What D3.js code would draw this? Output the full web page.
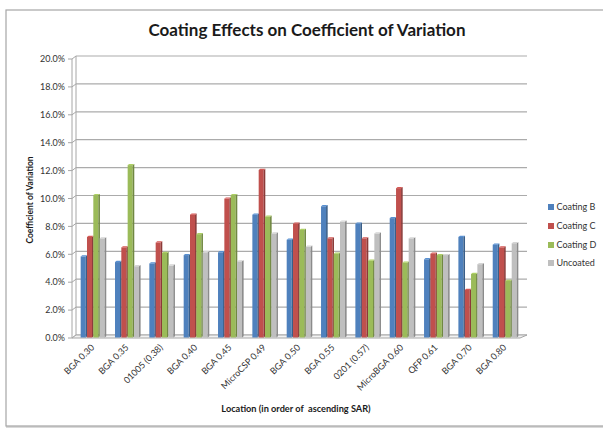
<!DOCTYPE html>
<html><head><meta charset="utf-8">
<script src="https://cdn.jsdelivr.net/npm/d3@7"></script>
<style>body{margin:0;background:#fff}svg{display:block}text{font-family:Lato,"Open Sans",sans-serif}</style>
</head><body>
<svg id="c" width="603" height="429"></svg>
<script>
const categories = ["BGA 0.30","BGA 0.35","01005 (0.38)","BGA 0.40","BGA 0.45","MicroCSP 0.49","BGA 0.50","BGA 0.55","0201 (0.57)","MicroBGA 0.60","QFP 0.61","BGA 0.70","BGA 0.80"];
const seriesNames = ["Coating B","Coating C","Coating D","Uncoated"];
const coatingB = [5.7,5.3,5.2,5.8,6.0,8.7,6.9,9.3,8.05,8.45,5.5,7.1,6.55];
const coatingC = [7.1,6.35,6.7,8.7,9.85,11.9,8.05,7.0,7.0,10.6,5.9,3.3,6.35];
const coatingD = [10.1,12.25,5.95,7.3,10.1,8.55,7.6,5.9,5.4,5.25,5.8,4.45,3.95];
const uncoated = [7.0,5.0,5.05,6.0,5.35,7.35,6.4,8.2,7.35,7.0,5.8,5.15,6.65];
const yTicks = [0,2,4,6,8,10,12,14,16,18,20];
const colors = ["#4F81BD","#C0504D","#9BBB59","#BFBFBF"];
const values = [coatingB, coatingC, coatingD, uncoated];

const svg = d3.select("#c");
// outer frame
svg.append("rect").attr("x",7).attr("y",11).attr("width",620).attr("height",416).attr("fill","none").attr("stroke","#d9d9d9").attr("stroke-width",2);
svg.append("rect").attr("x",6).attr("y",10).attr("width",620).attr("height",416).attr("fill","#fff").attr("stroke","#a6a6a6").attr("stroke-width",1.2);

const y = d3.scaleLinear().domain([0,20]).range([335,56]);
const x = d3.scaleBand().domain(categories).range([76.2,522.5]).paddingInner(0.263).paddingOuter(0.13);
const xs = d3.scaleBand().domain(seriesNames).range([0,x.bandwidth()]);

// back wall gridlines
const g = svg.append("g");
g.selectAll("line.grid").data(yTicks).join("line")
  .attr("x1",76).attr("x2",527).attr("y1",d=>y(d)).attr("y2",d=>y(d))
  .attr("stroke","#ababab").attr("stroke-width",1.2);
g.append("line").attr("x1",76).attr("x2",76).attr("y1",y(20)).attr("y2",y(0)).attr("stroke","#a6a6a6");
g.selectAll("line.diag").data(yTicks).join("line")
  .attr("x1",72).attr("x2",76).attr("y1",d=>y(d)+3).attr("y2",d=>y(d)).attr("stroke","#a6a6a6");
g.append("line").attr("x1",72).attr("x2",72).attr("y1",y(20)+3).attr("y2",y(0)+3).attr("stroke","#a6a6a6");
g.selectAll("line.tk").data(yTicks).join("line")
  .attr("x1",68).attr("x2",72).attr("y1",d=>y(d)+3).attr("y2",d=>y(d)+3).attr("stroke","#a6a6a6");
g.append("path").attr("d",`M72,${y(0)+3}L520,${y(0)+3}L527,${y(0)}L76,${y(0)}Z`).attr("fill","#f2f2f2").attr("stroke","#a6a6a6");

// tick labels
svg.append("g").selectAll("text").data(yTicks).join("text")
  .attr("x",65).attr("y",d=>y(d)+6.2).attr("text-anchor","end").attr("font-size",9).attr("fill","#333")
  .text(d=>d.toFixed(1)+"%");

// bars
const bg = svg.append("g");
categories.forEach((c,i)=>{
  seriesNames.forEach((s,j)=>{
    const v = values[j][i];
    const bx = x(c)+xs(s), bw = xs.bandwidth()-1.3, top = y(v)+1, bot = y(0)+2.5;
    const col = d3.color(colors[j]);
    bg.append("rect").attr("x",bx).attr("y",top).attr("width",bw).attr("height",bot-top).attr("fill",col.formatHex());
    bg.append("path").attr("d",`M${bx+bw},${top}L${bx+bw+1.6},${top-1.2}L${bx+bw+1.6},${bot-1.2}L${bx+bw},${bot}Z`).attr("fill",col.darker(0.9).formatHex());
    bg.append("path").attr("d",`M${bx},${top}L${bx+1.6},${top-1.2}L${bx+bw+1.6},${top-1.2}L${bx+bw},${top}Z`).attr("fill",col.brighter(0.3).formatHex());
  });
});

// x labels
svg.append("g").selectAll("text").data(categories).join("text")
  .attr("transform",d=>`translate(${x(d)+x.bandwidth()/2+1.5},348) rotate(-45)`)
  .attr("text-anchor","end").attr("font-size",9).attr("fill","#333").text(d=>d);

// titles
svg.append("text").attr("x",307).attr("y",36).attr("text-anchor","middle").attr("font-size",17).attr("font-weight","bold").attr("fill","#1a1a1a")
  .text("Coating Effects on Coefficient of Variation");
svg.append("text").attr("x",296).attr("y",412).attr("text-anchor","middle").attr("font-size",9.2).attr("font-weight","bold").attr("fill","#1a1a1a")
  .style("white-space","pre").text("Location (in order of  ascending SAR)");
svg.append("text").attr("transform","translate(33,200) rotate(-90)").attr("text-anchor","middle").attr("font-size",8.5).attr("font-weight","bold").attr("fill","#1a1a1a")
  .text("Coefficient of Variation");

// legend
const legY = [207,226,245,263];
const lg = svg.append("g");
seriesNames.forEach((s,j)=>{
  lg.append("rect").attr("x",548).attr("y",legY[j]-3).attr("width",6).attr("height",6).attr("fill",colors[j]);
  lg.append("text").attr("x",556.5).attr("y",legY[j]+3.4).attr("font-size",9).attr("fill","#333").text(s);
});
</script>
</body></html>
